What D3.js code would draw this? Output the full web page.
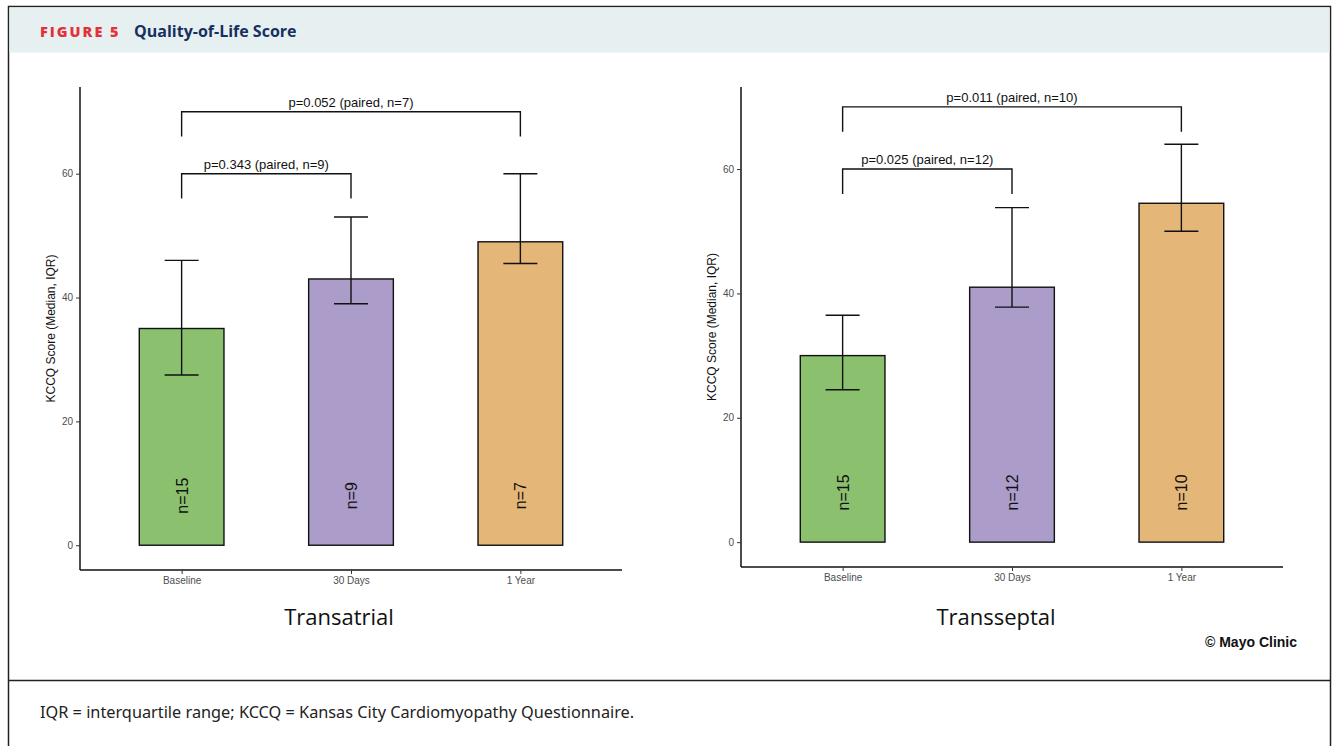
<!DOCTYPE html>
<html>
<head>
<meta charset="utf-8">
<script src="https://cdn.jsdelivr.net/npm/d3@7"></script>
<style>
  body { margin: 0; background: #fff; }
  text { font-family: "Liberation Sans", Arial, sans-serif; }
</style>
</head>
<body>
<svg id="fig" width="1336" height="746"></svg>
<script>
// data
var groups = ["Baseline", "30 Days", "1 Year"];
var colors = ["#8bc06f", "#ab9cc9", "#e4b677"];

var atrialMedian = [35, 43, 49];
var atrialLow = [27.5, 39, 45.5];
var atrialHigh = [46, 53, 60];
var atrialN = ["n=15", "n=9", "n=7"];
var atrialBrackets = [
  { from: 0, to: 1, y: 60, label: "p=0.343 (paired, n=9)" },
  { from: 0, to: 2, y: 70, label: "p=0.052 (paired, n=7)" }
];

var septalMedian = [30, 41, 54.5];
var septalLow = [24.5, 37.8, 50];
var septalHigh = [36.5, 53.8, 64];
var septalN = ["n=15", "n=12", "n=10"];
var septalBrackets = [
  { from: 0, to: 1, y: 60, label: "p=0.025 (paired, n=12)" },
  { from: 0, to: 2, y: 70, label: "p=0.011 (paired, n=10)" }
];

var yTicks = [0, 20, 40, 60];

var svg = d3.select("#fig");

// frame + header
svg.append("rect").attr("x", 8.5).attr("y", 6.5).attr("width", 1322).attr("height", 760)
    .attr("fill", "none").attr("stroke", "#222").attr("stroke-width", 1.5);
svg.append("rect").attr("x", 9.5).attr("y", 7.5).attr("width", 1320).attr("height", 45)
    .attr("fill", "#e7f0f0");
svg.append("line").attr("x1", 8).attr("x2", 1331).attr("y1", 680.5).attr("y2", 680.5)
    .attr("stroke", "#222").attr("stroke-width", 1.5);

svg.append("text").attr("x", 40).attr("y", 37)
    .style("font-family", "'Open Sans', sans-serif").style("font-weight", 800)
    .style("font-size", "14.5px").style("letter-spacing", "2px").attr("fill", "#e2313c")
    .text("FIGURE 5");
svg.append("text").attr("x", 134).attr("y", 37)
    .style("font-family", "'Open Sans', sans-serif").style("font-weight", 700)
    .style("font-size", "16px").attr("fill", "#17305f")
    .text("Quality-of-Life Score");

svg.append("text").attr("x", 40).attr("y", 718)
    .style("font-family", "'Noto Sans', sans-serif").style("font-size", "16.3px").attr("fill", "#222")
    .text("IQR = interquartile range; KCCQ = Kansas City Cardiomyopathy Questionnaire.");

svg.append("text").attr("x", 1297).attr("y", 647).attr("text-anchor", "end")
    .style("font-weight", "bold").style("font-size", "14px").attr("fill", "#111")
    .text("© Mayo Clinic");

function drawPanel(opt) {
    var g = svg.append("g");
    var x = d3.scalePoint().domain(groups).range([opt.left, opt.right]).padding(0.6);
    var y = d3.scaleLinear().domain(opt.domain).range([opt.bottom, opt.top]);
    var barW = x.step() * 0.5;

    // bars
    g.selectAll("rect.bar").data(groups).enter().append("rect")
        .attr("class", "bar")
        .attr("x", function(d) { return x(d) - barW / 2; })
        .attr("y", function(d, i) { return y(opt.median[i]); })
        .attr("width", barW)
        .attr("height", function(d, i) { return y(0) - y(opt.median[i]); })
        .attr("fill", function(d, i) { return colors[i]; })
        .attr("stroke", "#111").attr("stroke-width", 1.4);

    // error bars
    var eb = g.selectAll("g.err").data(groups).enter().append("g").attr("class", "err")
        .attr("stroke", "#111").attr("stroke-width", 1.4);
    eb.append("line")
        .attr("x1", function(d) { return x(d); }).attr("x2", function(d) { return x(d); })
        .attr("y1", function(d, i) { return y(opt.low[i]); })
        .attr("y2", function(d, i) { return y(opt.high[i]); });
    eb.append("line")
        .attr("x1", function(d) { return x(d) - 17; }).attr("x2", function(d) { return x(d) + 17; })
        .attr("y1", function(d, i) { return y(opt.high[i]); })
        .attr("y2", function(d, i) { return y(opt.high[i]); });
    eb.append("line")
        .attr("x1", function(d) { return x(d) - 17; }).attr("x2", function(d) { return x(d) + 17; })
        .attr("y1", function(d, i) { return y(opt.low[i]); })
        .attr("y2", function(d, i) { return y(opt.low[i]); });

    // n labels
    g.selectAll("text.n").data(groups).enter().append("text")
        .attr("class", "n")
        .attr("transform", function(d) { return "translate(" + (x(d) + 6) + "," + y(8) + ") rotate(-90)"; })
        .attr("text-anchor", "middle")
        .style("font-size", "16px").attr("fill", "#111")
        .text(function(d, i) { return opt.n[i]; });

    // brackets
    opt.brackets.forEach(function(b) {
        var x0 = x(groups[b.from]), x1 = x(groups[b.to]);
        g.append("path")
            .attr("d", "M" + x0 + "," + y(b.y - 4) + "V" + y(b.y) + "H" + x1 + "V" + y(b.y - 4))
            .attr("fill", "none").attr("stroke", "#111").attr("stroke-width", 1.4);
        g.append("text").attr("x", (x0 + x1) / 2).attr("y", y(b.y) - 5)
            .attr("text-anchor", "middle").style("font-size", "13px").attr("fill", "#111")
            .text(b.label);
    });

    // axes
    var ya = g.append("g").attr("transform", "translate(" + opt.left + ",0)")
        .call(d3.axisLeft(y).tickValues(yTicks).tickSize(4).tickPadding(3));
    var xa = g.append("g").attr("transform", "translate(0," + opt.bottom + ")")
        .call(d3.axisBottom(x).tickSize(4).tickPadding(3));
    [ya, xa].forEach(function(a) {
        a.select(".domain").attr("stroke", "#111").attr("stroke-width", 1.5);
        a.selectAll(".tick line").attr("stroke", "#333");
        a.selectAll(".tick text").attr("fill", "#4d4d4d")
            .style("font-family", "'Liberation Sans', Arial, sans-serif").style("font-size", "10px");
    });
    xa.select(".domain").attr("d", "M" + opt.left + ",0H" + opt.right);
    ya.select(".domain").attr("d", "M0," + opt.top + "V" + opt.bottom);

    g.append("text")
        .attr("transform", "translate(" + (opt.left - 25) + "," + ((opt.top + opt.bottom) / 2) + ") rotate(-90)")
        .attr("text-anchor", "middle").style("font-size", "12px").attr("fill", "#111")
        .text("KCCQ Score (Median, IQR)");

    g.append("text").attr("x", (opt.left + opt.right) / 2 + opt.titleShift).attr("y", 625)
        .attr("text-anchor", "middle")
        .style("font-family", "'Open Sans', sans-serif").style("font-size", "22px").attr("fill", "#111")
        .text(opt.title);
}

drawPanel({ left: 80, right: 622, top: 87, bottom: 570, domain: [-4, 74],
    median: atrialMedian, low: atrialLow, high: atrialHigh, n: atrialN,
    brackets: atrialBrackets, title: "Transatrial", titleShift: -12 });
drawPanel({ left: 741, right: 1283, top: 87, bottom: 567, domain: [-4, 73.2],
    median: septalMedian, low: septalLow, high: septalHigh, n: septalN,
    brackets: septalBrackets, title: "Transseptal", titleShift: -16 });
</script>
</body>
</html>
